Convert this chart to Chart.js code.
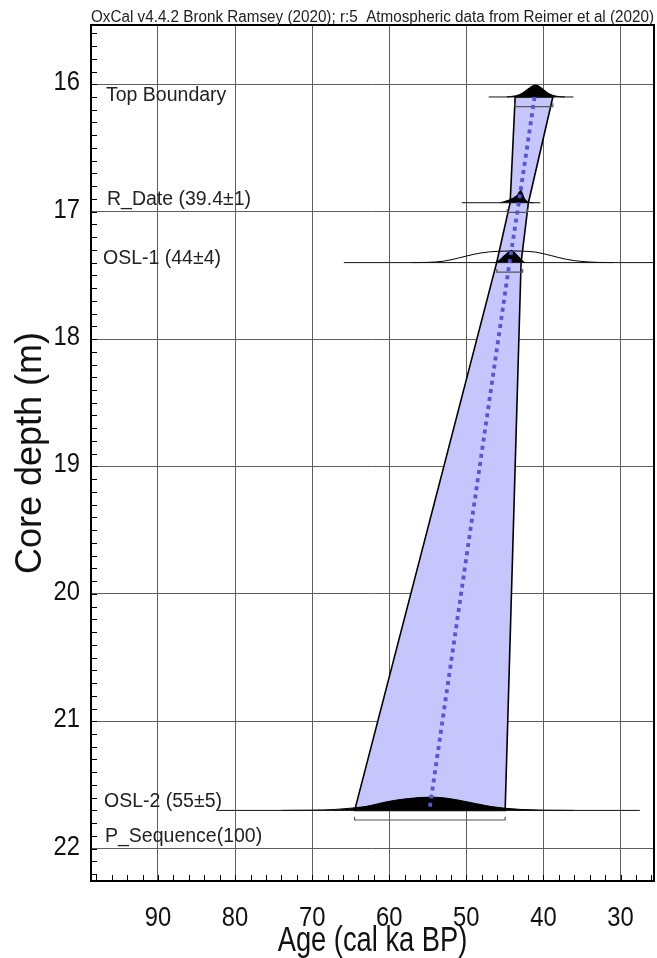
<!DOCTYPE html>
<html><head><meta charset="utf-8">
<script src="https://cdn.jsdelivr.net/npm/chart.js@4.4.0/dist/chart.umd.min.js"></script>
<style>html,body{margin:0;padding:0;background:#fff}#wrap{width:657px;height:958px;position:relative}</style>
</head><body><div id="wrap"><canvas id="c"></canvas></div>
<script>
// ---------------- data ----------------
const TITLE = 'OxCal v4.4.2 Bronk Ramsey (2020); r:5  Atmospheric data from Reimer et al (2020)';
const X_TITLE = 'Age (cal ka BP)';
const Y_TITLE = 'Core depth (m)';
const AGE_TICKS = [90, 80, 70, 60, 50, 40, 30];
const DEPTH_TICKS = [16, 17, 18, 19, 20, 21, 22];
const AGE_MIN = 25.66, AGE_MAX = 98.69;
const DEPTH_MIN = 15.535, DEPTH_MAX = 22.254;

const names = ['Top Boundary', 'R_Date (39.4±1)', 'OSL-1 (44±4)', 'OSL-2 (55±5)'];
const depths = [16.10, 16.93, 17.40, 21.70];
const lineFrom = [47.1, 50.6, 65.9, 82.3];
const lineTo = [36.1, 40.4, 22.0, 27.5];
const rangeFrom = [43.67, 44.7, 46.05, 64.5];
const rangeTo = [38.78, 42.1, 42.7, 44.97];
const sequenceName = 'P_Sequence(100)';

// depth-model envelope (95%) and median
const envOld = [43.67, 44.32, 46.07, 64.49];
const envYoung = [38.78, 41.95, 42.90, 44.97];
const medianAge = [41.15, 43.2, 44.4, 54.8];

// modelled (posterior) distributions, relative probability
const topAge = [37.2, 38.06, 38.71, 39.36, 40.0, 40.65, 41.08, 41.51, 42.16, 42.81, 43.45, 44.1, 44.75];
const topP   = [0, 0.04, 0.12, 0.3, 0.6, 0.9, 0.96, 0.86, 0.58, 0.29, 0.12, 0.05, 0];
const rAge = [41.3, 41.73, 42.25, 42.51, 42.73, 42.94, 43.16, 43.3, 43.46, 43.7, 43.9, 44.2, 44.55, 45.19, 45.62];
const rP   = [0, 0.02, 0.18, 0.4, 0.75, 1.0, 0.85, 0.7, 0.55, 0.48, 0.38, 0.3, 0.2, 0.07, 0];
const o1Age = [42.3, 42.47, 42.81, 43.25, 43.8, 44.19, 44.62, 45.19, 45.71, 46.14, 46.4];
const o1P   = [0, 0.02, 0.2, 0.5, 0.84, 0.98, 0.8, 0.5, 0.2, 0.02, 0];
const o2Age = [40.43, 43.0, 44.97, 46.49, 48.64, 50.81, 52.97, 54.7, 56.42, 58.59, 60.75, 62.9, 64.42, 67.23];
const o2P   = [0, 0.05, 0.13, 0.27, 0.53, 0.8, 1.01, 1.06, 1.01, 0.87, 0.64, 0.32, 0.16, 0];

// unmodelled (likelihood) distributions, relative probability
const o1LikAge = [31, 33, 35, 37, 39, 41, 43, 44, 45, 47, 49, 51, 53, 55, 57];
const o1LikP   = [0, 0.02, 0.09, 0.26, 0.56, 0.84, 0.92, 0.93, 0.92, 0.86, 0.67, 0.37, 0.11, 0.02, 0];
const o2LikAge = [36, 40, 43, 45, 48, 50, 52, 55, 58, 60, 62, 65, 67, 70, 74];
const o2LikP   = [0, 0.02, 0.08, 0.18, 0.4, 0.63, 0.85, 1.04, 0.85, 0.63, 0.4, 0.18, 0.08, 0.02, 0];

// ---------------- styles ----------------
const FONT = "'Liberation Sans', Arial, sans-serif";
const DIST_H = 0.098;        // depth units for a relative probability of 1
const BR_OFF = 0.075, BR_TICK = 0.025;
const LABEL_DX = [15, 16, 12, 13];
const LABEL_DY = [3.7, 2.4, 1.7, -3.3];
const SEQ_DX = 14, SEQ_DY = 31.7;
const BAND_FILL = '#c6c6fc';
const MEDIAN_COLOR = '#5656d6';
const TICK_FONT = 28, TICK_SQUEEZE = 0.85;
const XT_FONT = 35, XT_SQUEEZE = 0.78;

function dist(ages, probs, d) { return ages.map((a, i) => ({x: a, y: d - probs[i] * DIST_H})); }

const datasets = [];
const band = [];
for (let i = 0; i < depths.length; i++) band.push({x: envOld[i], y: depths[i]});
for (let i = depths.length - 1; i >= 0; i--) band.push({x: envYoung[i], y: depths[i]});
band.push({x: envOld[0], y: depths[0]});
datasets.push({data: band, borderColor: '#000', borderWidth: 1.6, backgroundColor: BAND_FILL, fill: 'shape', order: 10, tension: 0});

datasets.push({data: dist(o1LikAge, o1LikP, depths[2]), borderColor: '#000', borderWidth: 1, fill: false, order: 8, cubicInterpolationMode: 'monotone'});
datasets.push({data: dist(o2LikAge, o2LikP, depths[3]), borderColor: '#000', borderWidth: 1, fill: false, order: 8, cubicInterpolationMode: 'monotone'});

[[topAge, topP], [rAge, rP], [o1Age, o1P], [o2Age, o2P]].forEach((p, i) => {
  datasets.push({data: dist(p[0], p[1], depths[i]), borderColor: '#000', borderWidth: 1, backgroundColor: '#000',
    fill: {value: depths[i]}, order: 6, cubicInterpolationMode: 'monotone'});
});

depths.forEach((d, i) => {
  datasets.push({data: [{x: lineFrom[i], y: d}, {x: lineTo[i], y: d}], borderColor: '#111', borderWidth: 1, fill: false, order: 5});
});
depths.forEach((d, i) => {
  datasets.push({data: [{x: rangeFrom[i], y: d + BR_OFF - BR_TICK}, {x: rangeFrom[i], y: d + BR_OFF}, {x: rangeTo[i], y: d + BR_OFF}, {x: rangeTo[i], y: d + BR_OFF - BR_TICK}],
    borderColor: '#555', borderWidth: 1.2, fill: false, order: 4, tension: 0});
});
datasets.push({data: depths.map((d, i) => ({x: medianAge[i], y: d})), borderColor: MEDIAN_COLOR, borderWidth: 3.8,
  borderDash: [4, 4.2], borderCapStyle: 'butt', fill: false, order: 1, tension: 0});

function squeezedText(ctx, text, x, y, sx, align) {
  ctx.save();
  ctx.translate(x, y);
  ctx.scale(sx, 1);
  ctx.textAlign = align;
  ctx.fillText(text, 0, 0);
  ctx.restore();
}

const framePlugin = {
  id: 'frame',
  afterDatasetsDraw(chart) {
    const {ctx, chartArea: a, scales: {x, y}} = chart;
    ctx.save();
    ctx.strokeStyle = '#000';
    ctx.lineWidth = 1;
    ctx.beginPath();
    for (let v = Math.ceil(DEPTH_MIN * 10) / 10; v <= DEPTH_MAX + 1e-9; v = Math.round((v + 0.1) * 10) / 10) {
      const py = Math.round(y.getPixelForValue(v)) + 0.5;
      ctx.moveTo(a.left, py); ctx.lineTo(a.left + 6, py);
    }
    for (let v = Math.ceil(AGE_MIN / 2) * 2; v <= AGE_MAX; v += 2) {
      const px = Math.round(x.getPixelForValue(v)) + 0.5;
      ctx.moveTo(px, a.bottom); ctx.lineTo(px, a.bottom - 6);
    }
    ctx.stroke();
    ctx.lineWidth = 2;
    ctx.strokeRect(a.left, a.top, a.right - a.left, a.bottom - a.top);
    ctx.restore();
  },
  afterDraw(chart) {
    const {ctx, chartArea: a, scales: {x, y}} = chart;
    ctx.save();
    ctx.fillStyle = '#222';
    ctx.textBaseline = 'alphabetic';
    ctx.textAlign = 'left';
    ctx.font = '16px ' + FONT;
    ctx.fillText(TITLE, a.left, a.top - 3, a.right - a.left);
    ctx.font = '19.5px ' + FONT;
    names.forEach((n, i) => {
      ctx.fillText(n, a.left + LABEL_DX[i], y.getPixelForValue(depths[i]) + LABEL_DY[i]);
    });
    ctx.fillText(sequenceName, a.left + SEQ_DX, y.getPixelForValue(depths[3]) + SEQ_DY);

    // tick labels (condensed, as in the original)
    ctx.fillStyle = '#111';
    ctx.font = TICK_FONT + 'px ' + FONT;
    x.ticks.forEach(t => {
      if (AGE_TICKS.includes(Math.round(t.value))) squeezedText(ctx, String(Math.round(t.value)), x.getPixelForValue(t.value), a.bottom + 45, TICK_SQUEEZE, 'center');
    });
    y.ticks.forEach(t => {
      if (DEPTH_TICKS.includes(Math.round(t.value))) squeezedText(ctx, String(Math.round(t.value)), a.left - 11, y.getPixelForValue(t.value) + 6, TICK_SQUEEZE, 'right');
    });
    ctx.font = XT_FONT + 'px ' + FONT;
    squeezedText(ctx, X_TITLE, (a.left + a.right) / 2, a.bottom + 70, XT_SQUEEZE, 'center');
    ctx.restore();
  }
};

new Chart(document.getElementById('c'), {
  type: 'line',
  data: {datasets},
  options: {
    responsive: true, maintainAspectRatio: false, animation: false,
    layout: {padding: {left: 0, right: 3, top: 25, bottom: 0}},
    plugins: {legend: {display: false}, tooltip: {enabled: false}, title: {display: false}},
    elements: {point: {radius: 0, hoverRadius: 0}, line: {tension: 0}},
    scales: {
      x: {
        type: 'linear', reverse: true, min: AGE_MIN, max: AGE_MAX,
        afterFit: s => { s.height = 77; },
        border: {display: false},
        grid: {color: '#5e5e5e', lineWidth: 1, drawTicks: false},
        ticks: {display: false, stepSize: 10, includeBounds: false, autoSkip: false, maxRotation: 0},
        title: {display: false, text: X_TITLE}
      },
      y: {
        type: 'linear', reverse: true, min: DEPTH_MIN, max: DEPTH_MAX,
        afterFit: s => { s.width = 91; },
        border: {display: false},
        grid: {color: '#5e5e5e', lineWidth: 1, drawTicks: false},
        ticks: {display: false, stepSize: 1, includeBounds: false, autoSkip: false},
        title: {display: true, text: Y_TITLE, font: {family: FONT, size: 36, lineHeight: 1.7}, color: '#111', padding: 0}
      }
    }
  },
  plugins: [framePlugin]
});
</script>
</body></html>
